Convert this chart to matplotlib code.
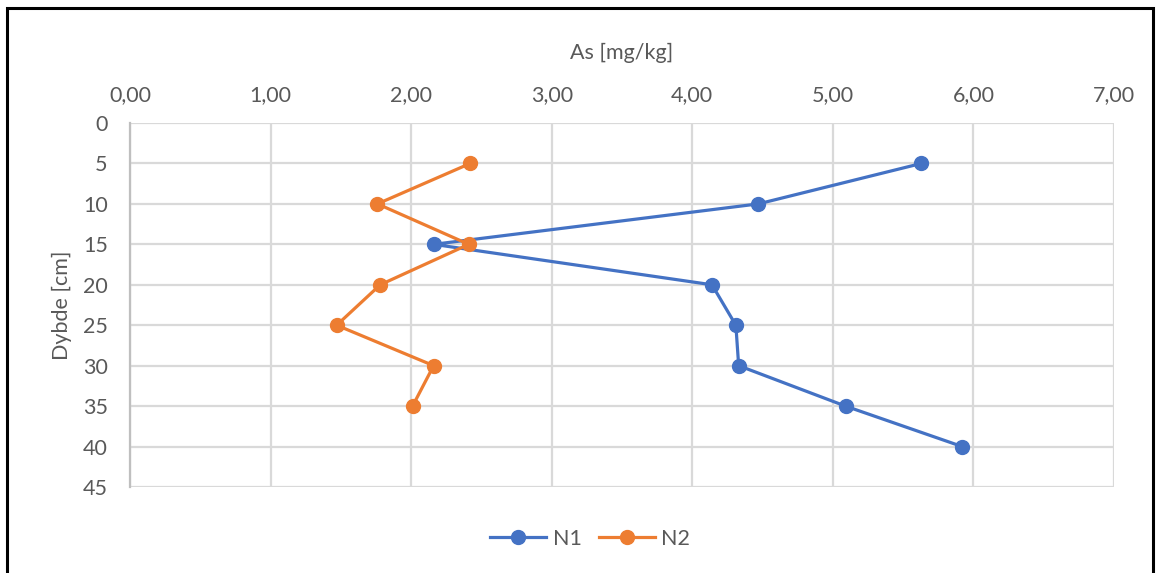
import matplotlib.pyplot as plt
from matplotlib.patches import Rectangle

# depth [cm] and As [mg/kg]
depth_n1 = [5, 10, 15, 20, 25, 30, 35, 40]
as_n1 = [5.63, 4.47, 2.16, 4.14, 4.31, 4.33, 5.09, 5.92]
depth_n2 = [5, 10, 15, 20, 25, 30, 35]
as_n2 = [2.42, 1.76, 2.41, 1.78, 1.47, 2.16, 2.01]

x_ticks = [0, 1, 2, 3, 4, 5, 6, 7]
y_ticks = [0, 5, 10, 15, 20, 25, 30, 35, 40, 45]

plt.rcParams['font.family'] = ['Lato', 'DejaVu Sans']
txt = '#595959'
grid = '#d9d9d9'
fs = 15.5

fig = plt.figure(figsize=(11.57, 5.73), dpi=100)
ax = fig.add_axes([130 / 1157, 1 - 487 / 573, (1114 - 130) / 1157, (487 - 123) / 573])

ax.plot(as_n1, depth_n1, '-o', color='#4472c4', lw=2.3, ms=10, label='N1', zorder=3)
ax.plot(as_n2, depth_n2, '-o', color='#ed7d31', lw=2.3, ms=10, label='N2', zorder=3)

ax.set_xlim(0, 7)
ax.set_ylim(45, 0)
ax.set_xticks(x_ticks)
ax.set_xticklabels(['{:.2f}'.format(v).replace('.', ',') for v in x_ticks])
ax.set_yticks(y_ticks)
ax.xaxis.tick_top()
ax.xaxis.set_label_position('top')
ax.tick_params(length=0, labelsize=fs, colors=txt, pad=13)
ax.tick_params(axis='y', pad=16)
ax.grid(True, color=grid, lw=1.6)
ax.set_axisbelow(True)
for s in ['top', 'right', 'bottom']:
    ax.spines[s].set_visible(False)
ax.spines['left'].set_color('#bfbfbf')
ax.spines['left'].set_linewidth(1.6)

ax.set_xlabel('As [mg/kg]', fontsize=fs, color=txt, labelpad=19)
ax.set_ylabel('Dybde [cm]', fontsize=fs, color=txt, labelpad=8)

leg = fig.legend(loc='center', bbox_to_anchor=(590 / 1157, 1 - 539 / 573), ncol=2,
                 frameon=False, fontsize=fs, handlelength=2.6, columnspacing=0.8,
                 handletextpad=0.3)
for t in leg.get_texts():
    t.set_color(txt)

fig.patches.append(Rectangle((7 / 1157, -0.05), (1153 - 7) / 1157, 1.05 - 8 / 573,
                             transform=fig.transFigure, fill=False, ec='black', lw=2.2))

fig.savefig('out.png', dpi=100)
